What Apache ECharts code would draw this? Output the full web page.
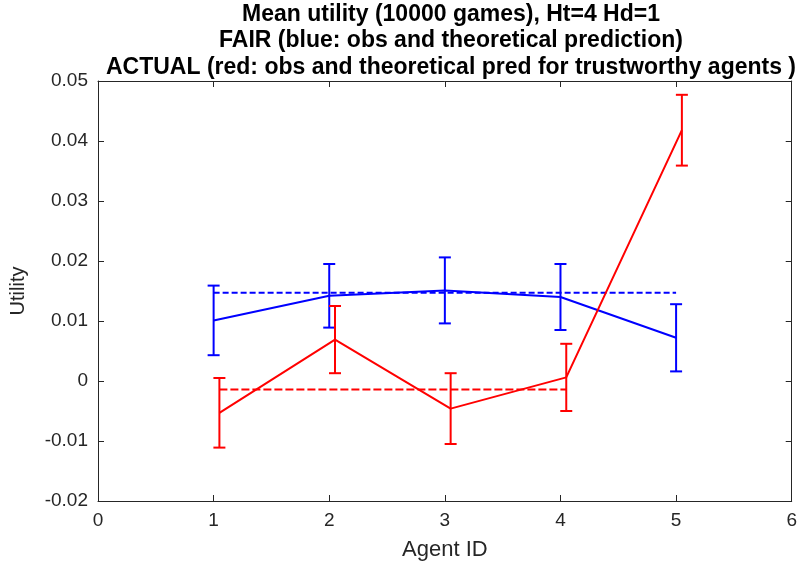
<!DOCTYPE html>
<html>
<head>
<meta charset="utf-8">
<script src="https://cdn.jsdelivr.net/npm/echarts@6/dist/echarts.min.js"></script>
<style>
  html, body { margin: 0; padding: 0; background: #fff; }
  #chart { width: 800px; height: 566px; }
</style>
</head>
<body>
<div id="chart"></div>
<script>
// Agent IDs and mean utilities over 10000 games
const agents = [1, 2, 3, 4, 5];
const fairObs = [0.0101, 0.0142, 0.0151, 0.0140, 0.0072];
const fairErr = [0.0058, 0.0053, 0.0055, 0.0055, 0.0056];
const actualObs = [-0.0053, 0.0069, -0.0046, 0.0006, 0.0418];
const actualErr = [0.0058, 0.0056, 0.0059, 0.0056, 0.0059];
const actualOffset = 0.05; // red series drawn slightly right of the blue one
const fairTheory = 0.0147;
const actualTheory = -0.0014;
const yTickLabels = ['-0.02', '-0.01', '0', '0.01', '0.02', '0.03', '0.04', '0.05'];
const xTickLabels = ['0', '1', '2', '3', '4', '5', '6'];

const BLUE = '#0000ff';
const RED = '#ff0000';
const AXIS = '#262626';
const FONT = '"Liberation Sans", Arial, Helvetica, sans-serif';

const fairPts = agents.map((a, i) => [a, fairObs[i]]);
const actualPts = agents.map((a, i) => [a + actualOffset, actualObs[i]]);
const fairBars = agents.map((a, i) => [a, fairObs[i] - fairErr[i], fairObs[i] + fairErr[i]]);
const actualBars = agents.map((a, i) => [a + actualOffset, actualObs[i] - actualErr[i], actualObs[i] + actualErr[i]]);

function errorBars(color) {
  return function (params, api) {
    const x = api.value(0);
    const lo = api.coord([x, api.value(1)]);
    const hi = api.coord([x, api.value(2)]);
    const cap = 6;
    const style = { stroke: color, lineWidth: 2, fill: null };
    return {
      type: 'group',
      children: [
        { type: 'line', shape: { x1: lo[0], y1: lo[1], x2: hi[0], y2: hi[1] }, style },
        { type: 'line', shape: { x1: lo[0] - cap, y1: lo[1], x2: lo[0] + cap, y2: lo[1] }, style },
        { type: 'line', shape: { x1: hi[0] - cap, y1: hi[1], x2: hi[0] + cap, y2: hi[1] }, style }
      ]
    };
  };
}

function yLabel(v) {
  const idx = Math.round((v + 0.02) / 0.01);
  return yTickLabels[idx] !== undefined ? yTickLabels[idx] : '';
}
function xLabel(v) {
  const idx = Math.round(v);
  return xTickLabels[idx] !== undefined ? xTickLabels[idx] : '';
}

function boxLine() {
  return { show: true, onZero: false, lineStyle: { color: AXIS, width: 1 } };
}
function boxTick() {
  return { show: true, inside: true, length: 6, lineStyle: { color: AXIS, width: 1 } };
}

const chart = echarts.init(document.getElementById('chart'), null, { renderer: 'canvas' });

chart.setOption({
  animation: false,
  backgroundColor: '#ffffff',
  title: {
    text: 'Mean utility (10000 games), Ht=4 Hd=1\nFAIR (blue: obs and theoretical prediction)\nACTUAL (red: obs and theoretical pred for trustworthy agents )',
    left: 446,
    top: -4,
    textAlign: 'center',
    textStyle: {
      fontFamily: FONT,
      fontSize: 23,
      fontWeight: 'bold',
      color: '#000000',
      lineHeight: 26.5
    }
  },
  grid: { left: 98, top: 81, width: 696, height: 421, containLabel: false },
  xAxis: [
    {
      type: 'value', min: 0, max: 6, interval: 1, position: 'bottom',
      name: 'Agent ID', nameLocation: 'middle', nameGap: 38,
      nameTextStyle: { fontFamily: FONT, fontSize: 22, color: AXIS },
      axisLine: boxLine(), axisTick: boxTick(),
      axisLabel: { fontFamily: FONT, fontSize: 19, color: AXIS, margin: 10, formatter: xLabel },
      splitLine: { show: false }
    },
    {
      type: 'value', min: 0, max: 6, interval: 1, position: 'top',
      axisLine: boxLine(), axisTick: boxTick(), axisLabel: { show: false }, splitLine: { show: false }
    }
  ],
  yAxis: [
    {
      type: 'value', min: -0.02, max: 0.05, interval: 0.01, position: 'left',
      name: 'Utility', nameLocation: 'middle', nameGap: 70,
      nameTextStyle: { fontFamily: FONT, fontSize: 20, color: AXIS },
      axisLine: boxLine(), axisTick: boxTick(),
      axisLabel: { fontFamily: FONT, fontSize: 19, color: AXIS, margin: 10, formatter: yLabel },
      splitLine: { show: false }
    },
    {
      type: 'value', min: -0.02, max: 0.05, interval: 0.01, position: 'right',
      axisLine: boxLine(), axisTick: boxTick(), axisLabel: { show: false }, splitLine: { show: false }
    }
  ],
  series: [
    {
      name: 'FAIR theory', type: 'line',
      data: [[agents[0], fairTheory], [agents[agents.length - 1], fairTheory]],
      showSymbol: false, symbol: 'none',
      lineStyle: { color: BLUE, width: 2, type: [6, 3] }, z: 2
    },
    {
      name: 'ACTUAL theory', type: 'line',
      data: [[agents[0] + actualOffset, actualTheory], [agents[3] + actualOffset, actualTheory]],
      showSymbol: false, symbol: 'none',
      lineStyle: { color: RED, width: 2, type: [8, 3] }, z: 2
    },
    {
      name: 'FAIR obs', type: 'line', data: fairPts,
      showSymbol: false, symbol: 'none',
      lineStyle: { color: BLUE, width: 2 }, z: 3
    },
    {
      name: 'FAIR err', type: 'custom', data: fairBars,
      renderItem: errorBars(BLUE), encode: { x: 0, y: [1, 2] }, z: 3
    },
    {
      name: 'ACTUAL obs', type: 'line', data: actualPts,
      showSymbol: false, symbol: 'none',
      lineStyle: { color: RED, width: 2 }, z: 4
    },
    {
      name: 'ACTUAL err', type: 'custom', data: actualBars,
      renderItem: errorBars(RED), encode: { x: 0, y: [1, 2] }, z: 4
    }
  ]
});
</script>
</body>
</html>
